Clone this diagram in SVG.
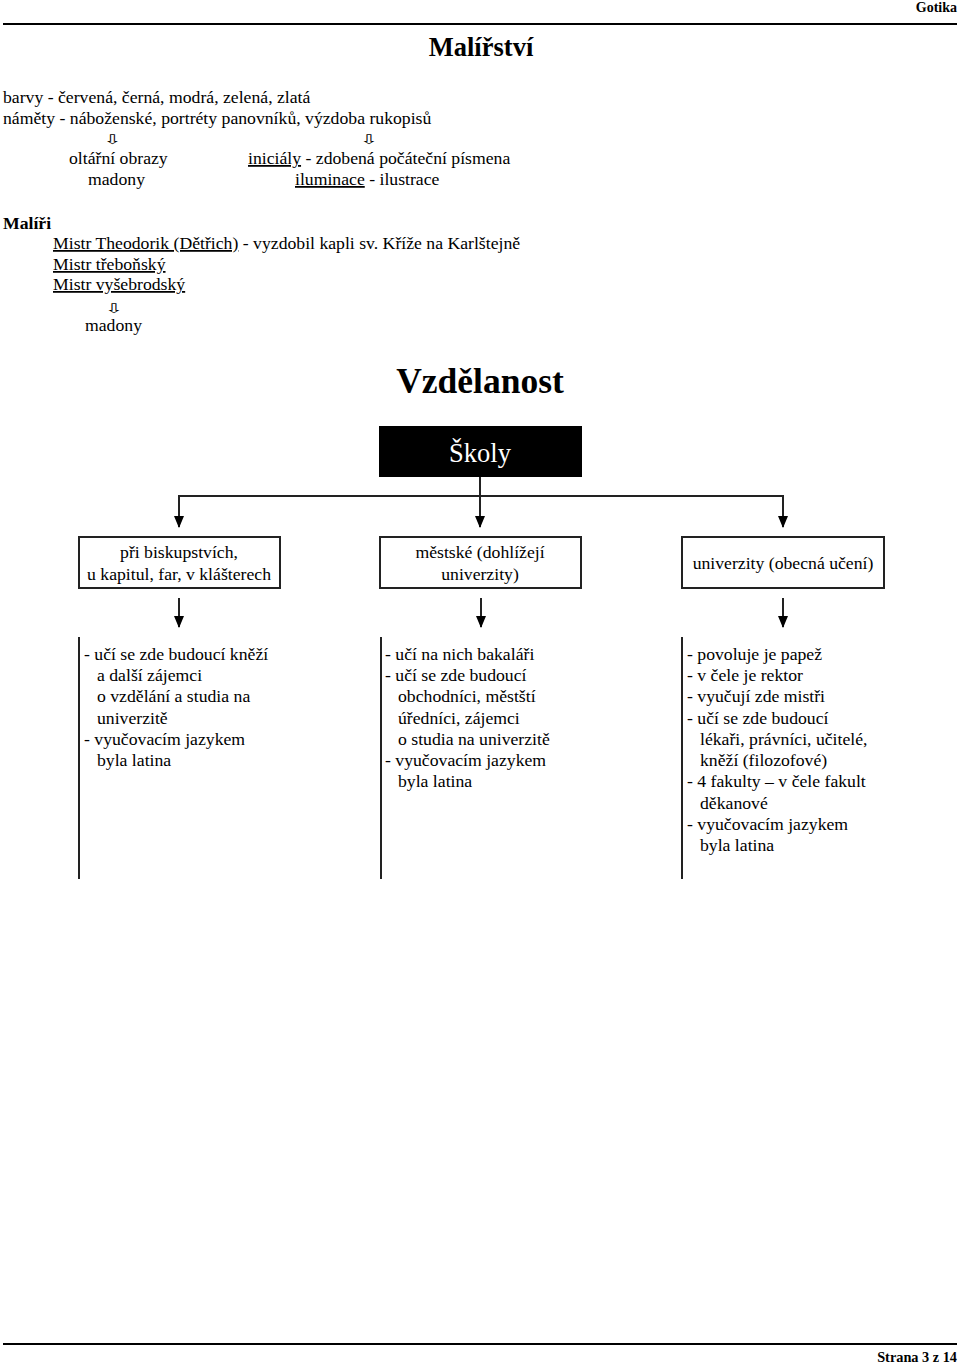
<svg xmlns="http://www.w3.org/2000/svg" width="960" height="1365" viewBox="0 0 960 1365">
<style>
text{font-family:"Liberation Serif","Times New Roman",serif;fill:#000;}
.t{font-size:17.7px;}
.b{font-weight:bold;}
.arr{font-family:"DejaVu Sans",sans-serif;font-size:22px;}
.u{text-decoration:underline;}
.box{fill:#fff;stroke:#222;stroke-width:2;}
.ln{stroke:#222;stroke-width:2;fill:none;}
</style>
<defs>
<marker id="ah" markerWidth="12" markerHeight="10" refX="11" refY="5" orient="auto" markerUnits="userSpaceOnUse" viewBox="0 0 12 10">
<path d="M0,0 L12,5 L0,10 Z" fill="#000"/>
</marker>
</defs>
<g id="header">
<text x="957" y="12" text-anchor="end" class="b" font-size="14">Gotika</text>
<line x1="3" y1="24" x2="957" y2="24" stroke="#000" stroke-width="2"/>
</g>
<g id="malirstvi">
<text x="481" y="56" text-anchor="middle" class="b" font-size="26.5">Malířství</text>
<text x="3" y="103" class="t">barvy - červená, černá, modrá, zelená, zlatá</text>
<text x="3" y="124" class="t">náměty - náboženské, portréty panovníků, výzdoba rukopisů</text>
<text transform="translate(112.5,144) scale(1,0.6)" class="arr" text-anchor="middle">⇩</text>
<text transform="translate(369,144) scale(1,0.6)" class="arr" text-anchor="middle">⇩</text>
<text x="69" y="164" class="t">oltářní obrazy</text>
<text x="88" y="185" class="t">madony</text>
<text x="248" y="164" class="t"><tspan class="u">iniciály</tspan> - zdobená počáteční písmena</text>
<text x="295" y="185" class="t"><tspan class="u">iluminace</tspan> - ilustrace</text>
<text x="3" y="229" class="t b">Malíři</text>
<text x="53" y="249" class="t"><tspan class="u">Mistr Theodorik (Dětřich)</tspan> - vyzdobil kapli sv. Kříže na Karlštejně</text>
<text x="53" y="270" class="t u">Mistr třeboňský</text>
<text x="53" y="290" class="t u">Mistr vyšebrodský</text>
<text transform="translate(114,313) scale(1,0.6)" class="arr" text-anchor="middle">⇩</text>
<text x="85" y="331" class="t">madony</text>
</g>
<g id="vzdelanost">
<text x="480" y="393" text-anchor="middle" class="b" font-size="35.5">Vzdělanost</text>
</g>
<g id="skoly">
<rect x="379" y="426" width="203" height="51" fill="#000"/>
<text x="480" y="462" text-anchor="middle" font-size="26.5" style="fill:#fff">Školy</text>
</g>
<g id="connectors">
<line class="ln" x1="480" y1="477" x2="480" y2="527" marker-end="url(#ah)"/>
<line class="ln" x1="178" y1="496" x2="784" y2="496"/>
<line class="ln" x1="179" y1="495" x2="179" y2="527" marker-end="url(#ah)"/>
<line class="ln" x1="783" y1="495" x2="783" y2="527" marker-end="url(#ah)"/>
<line class="ln" x1="179" y1="598" x2="179" y2="627" marker-end="url(#ah)"/>
<line class="ln" x1="481" y1="598" x2="481" y2="627" marker-end="url(#ah)"/>
<line class="ln" x1="783" y1="598" x2="783" y2="627" marker-end="url(#ah)"/>
</g>
<g id="box1">
<rect class="box" x="79" y="537" width="201" height="51"/>
<text x="179" y="558" text-anchor="middle" class="t">při biskupstvích,</text>
<text x="179" y="580" text-anchor="middle" class="t">u kapitul, far, v klášterech</text>
</g>
<g id="box2">
<rect class="box" x="380" y="537" width="201" height="51"/>
<text x="480" y="558" text-anchor="middle" class="t">městské (dohlížejí</text>
<text x="480" y="580" text-anchor="middle" class="t">univerzity)</text>
</g>
<g id="box3">
<rect class="box" x="682" y="537" width="202" height="51"/>
<text x="783" y="569" text-anchor="middle" class="t">univerzity (obecná učení)</text>
</g>
<g id="list1">
<line class="ln" x1="79" y1="637" x2="79" y2="879"/>
<text class="t" x="84" y="660">- učí se zde budoucí kněží</text>
<text class="t" x="97" y="681">a další zájemci</text>
<text class="t" x="97" y="702">o vzdělání a studia na</text>
<text class="t" x="97" y="724">univerzitě</text>
<text class="t" x="84" y="745">- vyučovacím jazykem</text>
<text class="t" x="97" y="766">byla latina</text>
</g>
<g id="list2">
<line class="ln" x1="381" y1="637" x2="381" y2="879"/>
<text class="t" x="385" y="660">- učí na nich bakaláři</text>
<text class="t" x="385" y="681">- učí se zde budoucí</text>
<text class="t" x="398" y="702">obchodníci, městští</text>
<text class="t" x="398" y="724">úředníci, zájemci</text>
<text class="t" x="398" y="745">o studia na univerzitě</text>
<text class="t" x="385" y="766">- vyučovacím jazykem</text>
<text class="t" x="398" y="787">byla latina</text>
</g>
<g id="list3">
<line class="ln" x1="682" y1="637" x2="682" y2="879"/>
<text class="t" x="687" y="660">- povoluje je papež</text>
<text class="t" x="687" y="681">- v čele je rektor</text>
<text class="t" x="687" y="702">- vyučují zde mistři</text>
<text class="t" x="687" y="724">- učí se zde budoucí</text>
<text class="t" x="700" y="745">lékaři, právníci, učitelé,</text>
<text class="t" x="700" y="766">kněží (filozofové)</text>
<text class="t" x="687" y="787">- 4 fakulty – v čele fakult</text>
<text class="t" x="700" y="809">děkanové</text>
<text class="t" x="687" y="830">- vyučovacím jazykem</text>
<text class="t" x="700" y="851">byla latina</text>
</g>
<g id="footer">
<line x1="3" y1="1344" x2="957" y2="1344" stroke="#000" stroke-width="2"/>
<text x="957" y="1362" text-anchor="end" class="b" font-size="14.3">Strana 3 z 14</text>
</g>
</svg>
